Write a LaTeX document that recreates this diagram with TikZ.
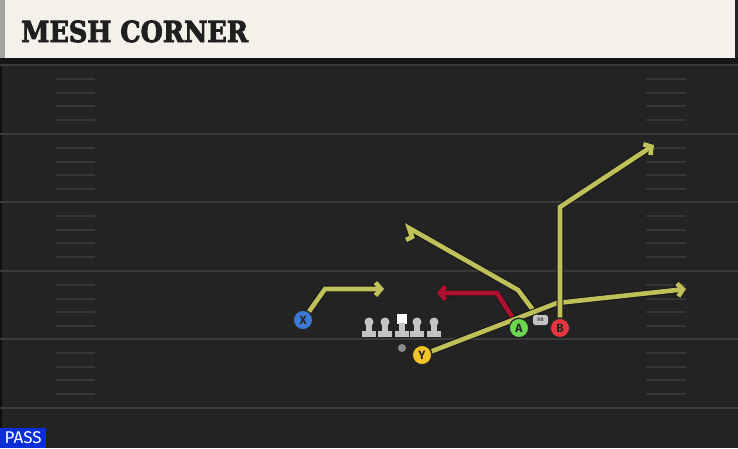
\documentclass[tikz,border=0pt]{standalone}
\usepackage{fontspec}
\newfontfamily\titlefont[BoldFeatures={FakeBold=3}]{DejaVu Serif}
\newfontfamily\tagfont{Fira Sans}
\usetikzlibrary{positioning,%
  arrows.meta,%
  calc
}

\definecolor{fieldbg}{HTML}{232323}
\definecolor{yardline}{HTML}{3A3A3A}
\definecolor{hashline}{HTML}{363636}
\definecolor{titlebg}{HTML}{F3F1EA}
\definecolor{titleedge}{HTML}{A3A4A0}
\definecolor{titleshadow}{HTML}{161616}
\definecolor{routeyellow}{HTML}{BFC05A}
\definecolor{routered}{HTML}{B0102F}
\definecolor{xblue}{HTML}{3B7BD6}
\definecolor{yyellow}{HTML}{F2C42A}
\definecolor{agreen}{HTML}{6CD64F}
\definecolor{bred}{HTML}{E5363F}
\definecolor{linegray}{HTML}{C4C4C4}
\definecolor{passblue}{HTML}{0B2FD6}

\pgfdeclarelayer{field}
\pgfdeclarelayer{routes}
\pgfsetlayers{field,routes,main}

\tikzset{
  player/.style={circle, draw=black!85, line width=1.3pt, minimum size=19.5pt,
    inner sep=0pt, text=black!85, font=\tagfont\bfseries\fontsize{12}{12}\selectfont},
  routeedge/.style={draw=black!90, line width=6.6pt, line join=miter},
  routeline/.style={line width=4.6pt, line join=miter},
  routetip/.style={-{Straight Barb[length=5.5pt,width=13pt]}},
  hashmark/.style={hashline, line width=2pt},
  lineman/.style={fill=linegray}
}

% one route: dark rim first, colour on top
\newcommand{\route}[3]{%
  \draw[routeedge,#2] #3;
  \draw[routeline,draw=#1,#2] #3;}

\begin{document}
\begin{tikzpicture}[x=1pt,y=-1pt]
  \useasboundingbox (0,0) rectangle (738,448);

  % field
  \begin{pgfonlayer}{field}
    \fill[fieldbg] (0,0) rectangle (738,448);
    \fill[black!60!fieldbg] (0,0) rectangle (2,448);
    \foreach \k in {0,...,5}
      \draw[yardline, line width=2pt] (0,65+68.6*\k) -- (738,65+68.6*\k);
    \foreach \k in {0,...,4}
      \foreach \d in {14,28,41,55} {
        \draw[hashmark] (56,65+68.6*\k+\d) -- (95,65+68.6*\k+\d);
        \draw[hashmark] (646,65+68.6*\k+\d) -- (686,65+68.6*\k+\d);
      }
    % title bar
    \fill[titleshadow] (0,57) rectangle (738,63.5);
    \fill[titlebg] (0,0) rectangle (735,58);
    \fill[titleedge] (0,0) rectangle (5,58);
  \end{pgfonlayer}

  \node[anchor=base west, inner sep=0pt, text=black!88,
    font=\titlefont\bfseries\fontsize{29}{29}\selectfont] (title) at (21,42)
    {\scalebox{0.88}[1]{MESH CORNER}};

  % players
  \node[player, fill=xblue] (X) at (303,320) {X};
  \node[player, fill=yyellow] (Y) at (422,355) {Y};
  \node[player, fill=agreen] (A) at (519,328) {A};
  \node[player, fill=bred] (B) at (560,328) {B};
  \node[fill=linegray, rounded corners=2.5pt, minimum width=15pt, minimum height=10pt,
    inner sep=0pt, text=black!70, font=\tagfont\bfseries\fontsize{5}{5}\selectfont]
    (RB) at (540.5,320) {RB};
  \node[circle, fill=black!45, minimum size=8pt, inner sep=0pt] (ball) at (402,348) {};

  % line
  \foreach \lx in {369,385,417,434} {
    \fill[lineman] (\lx,322) circle (4.5);
    \fill[lineman] (\lx-2.8,322) rectangle (\lx+2.8,332);
    \fill[lineman] (\lx-7,331) rectangle (\lx+7,336.5);
  }
  \fill[white] (397,313.5) rectangle (407,323.5);
  \fill[lineman] (399.2,323) rectangle (404.8,332);
  \fill[lineman] (395,331) rectangle (409,336.5);

  % route points
  \coordinate (xbrk) at (325,289);
  \coordinate (xend) at (384,289);
  \coordinate (abrk) at (497,293);
  \coordinate (aend) at (437,293);
  \coordinate (rbbrk) at (518,290);
  \coordinate (rbtop) at (409,228);
  \coordinate (rbhook) at (412,237);
  \coordinate (rbcurl) at (406,240);
  \coordinate (bbrk) at (560,207);
  \coordinate (bend) at (654,145);
  \coordinate (ybrk) at (557,303);
  \coordinate (yend) at (686,289);

  \begin{pgfonlayer}{routes}
    \route{routered}{routetip}{(A) -- (abrk) -- (aend)}
    \route{routeyellow}{}{(RB) -- (rbbrk) -- (rbtop) -- (rbhook) -- (rbcurl)}
    \route{routeyellow}{routetip}{(Y) -- (ybrk) -- (yend)}
    \route{routeyellow}{routetip}{(X) -- (xbrk) -- (xend)}
    \route{routeyellow}{routetip}{(B) -- (bbrk) -- (bend)}
  \end{pgfonlayer}

  \node[fill=passblue, text=white, anchor=south west, minimum width=46pt,
    minimum height=20pt, inner sep=0pt, font=\tagfont\fontsize{17}{17}\selectfont]
    (pass) at (0,448) {PASS};
\end{tikzpicture}
\end{document}
